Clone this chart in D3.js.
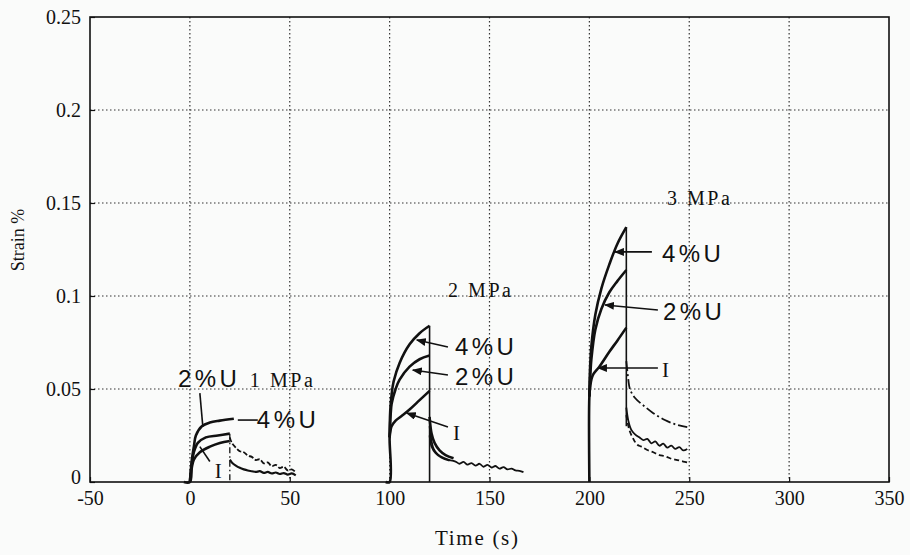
<!DOCTYPE html>
<meta charset="utf-8">
<style>
body { margin: 0; background: #fafbfa; }
.grid line { stroke: #333; stroke-width: 1.2px; stroke-dasharray: 1.5,2.5; }
.axis text { font-family: "Liberation Serif", "Times New Roman", serif; font-size: 20px; fill: #111; }
.axis line { stroke: #111; stroke-width: 1.2px; }
.load { fill: none; stroke: #111; stroke-width: 2.6px; }
.rec { fill: none; stroke: #111; stroke-width: 1.8px; }
.ann { stroke: #111; stroke-width: 1.6px; }
.sans { font-family: "Liberation Sans", Arial, sans-serif; font-size: 24px; fill: #111; }
.serif { font-family: "Liberation Serif", "Times New Roman", serif; fill: #111; }
</style>
<body>
<svg id="graph"></svg>
<script src="https://d3js.org/d3.v7.min.js"></script>
<script>

// tick values
var xTicks = [-50, 0, 50, 100, 150, 200, 250, 300, 350];
var yTicks = [0, 0.05, 0.1, 0.15, 0.2, 0.25];
var yTickLabels = ["0", "0.05", "0.1", "0.15", "0.2", "0.25"];

// 1 MPa, load 0-20 s
var load1_I   = [[-3,0],[0,0],[1,0.008],[2,0.012],[5,0.016],[10,0.019],[15,0.021],[20,0.022]];
var load1_2U  = [[0,0],[1,0.010],[2,0.016],[4,0.021],[8,0.024],[14,0.025],[20,0.026]];
var load1_4U  = [[0,0],[1,0.012],[2,0.019],[3,0.025],[6,0.030],[10,0.032],[15,0.033],[22,0.034]];
var rec1_a = [[20,0.024],[21,0.021],[23,0.0185],[25,0.0165],[27,0.016],[29,0.0142],[31,0.0135],[33,0.0118],[35,0.0122],[37,0.0100],[39,0.0105],[41,0.0085],[43,0.0092],[45,0.0075],[47,0.0082],[49,0.0062],[51,0.0068],[53,0.0052]];
var rec1_b = [[20,0.012],[21,0.0105],[23,0.0088],[25,0.0076],[27,0.0068],[29,0.0062],[31,0.0058],[33,0.0054],[35,0.0058],[37,0.0049],[39,0.0054],[41,0.0046],[43,0.0051],[45,0.0043],[47,0.0048],[49,0.0040],[51,0.0046],[53,0.0036]];
var unload1 = [[20,0.026],[20,0]];

// 2 MPa, load 100-120 s
var load2_I   = [[98,0],[100,0],[100,0.024],[100.5,0.028],[101,0.030],[103,0.033],[106,0.0355],[110,0.039],[115,0.044],[120,0.049]];
var load2_2U  = [[100,0.024],[100.5,0.036],[101,0.042],[103,0.050],[105,0.055],[110,0.062],[115,0.066],[120,0.068]];
var load2_4U  = [[100,0.024],[100.3,0.038],[101,0.047],[102,0.054],[105,0.064],[110,0.074],[115,0.080],[120,0.084]];
var rec2_a = [[120,0.030],[121,0.022],[122,0.018],[124,0.015],[127,0.013],[130,0.0118],[133,0.011],[135,0.0098],[137,0.0108],[139,0.0093],[141,0.0102],[143,0.0088],[145,0.0098],[147,0.0082],[149,0.0092],[151,0.0078],[153,0.0086],[155,0.0072],[157,0.0080],[159,0.0068],[161,0.0072],[163,0.0062],[165,0.0060],[167,0.0053]];
var rec2_b = [[120,0.035],[121,0.026],[122.5,0.021],[125,0.017],[128,0.0145],[132,0.0128]];
var rec2_c = [[120,0.025],[121,0.019],[123,0.0155],[126,0.013],[130,0.0115]];
var unload2 = [[120,0.084],[120,0]];

// 3 MPa, load 200-218.5 s
var load3_I   = [[200,0],[200,0.046],[200.5,0.052],[201,0.055],[202,0.058],[205,0.062],[210,0.070],[214,0.076],[218.5,0.083]];
var load3_2U  = [[200,0.046],[200.5,0.058],[201,0.066],[203,0.082],[206,0.093],[210,0.102],[214,0.108],[218.5,0.114]];
var load3_4U  = [[200,0.046],[200.3,0.060],[201,0.073],[203,0.090],[206,0.104],[210,0.117],[214,0.128],[218.5,0.137]];
var rec3_a = [[218.5,0.065],[219.5,0.055],[220.3,0.050],[223,0.045],[227.8,0.0405],[232,0.037],[237.8,0.0333],[243,0.031],[249,0.0295]];
var rec3_b = [[218.5,0.040],[219.5,0.033],[221,0.028],[223,0.0255],[225,0.024],[227,0.0225],[229,0.0232],[231,0.0208],[233,0.0218],[235,0.0195],[237,0.0206],[239,0.0185],[241,0.0196],[243,0.0178],[245,0.0188],[247,0.0170],[249,0.0178]];
var rec3_c = [[218.5,0.036],[220,0.028],[222,0.0232],[224,0.020],[226,0.019],[229,0.0172],[232,0.016],[235,0.0145],[238,0.0138],[241,0.0125],[244,0.0118],[247,0.011],[249,0.0105]];
var unload3 = [[218.5,0.137],[218.5,0.03]];

// annotation labels (data coords) and pointer lines
var labels = [
  {text: "2%U", t: -6, v: 0.051, kind: "sans"},
  {text: "1 MPa", t: 30, v: 0.051, kind: "mpa"},
  {text: "4%U", t: 33.5, v: 0.029, kind: "sans"},
  {text: "I", t: 12.5, v: 0.002, kind: "roman"},
  {text: "2 MPa", t: 129.2, v: 0.0995, kind: "mpa"},
  {text: "4%U", t: 132.7, v: 0.0683, kind: "sans"},
  {text: "2%U", t: 132.7, v: 0.052, kind: "sans"},
  {text: "I", t: 131.7, v: 0.0226, kind: "roman"},
  {text: "3 MPa", t: 238.8, v: 0.149, kind: "mpa"},
  {text: "4%U", t: 236.3, v: 0.1183, kind: "sans"},
  {text: "2%U", t: 236.8, v: 0.0871, kind: "sans"},
  {text: "I", t: 236.3, v: 0.0565, kind: "roman"}
];
var pointers = [
  {from: [5, 0.0478], to: [6.5, 0.0296], head: false},
  {from: [34, 0.0333], to: [24, 0.0333], head: false},
  {from: [10, 0.011], to: [5, 0.019], head: false},
  {from: [129.2, 0.0726], to: [113.6, 0.0763], head: true},
  {from: [129.2, 0.0575], to: [111.6, 0.0602], head: true},
  {from: [129.2, 0.0296], to: [108.6, 0.0371], head: true},
  {from: [231.3, 0.1237], to: [212.8, 0.1237], head: true},
  {from: [234.3, 0.0925], to: [207.8, 0.0952], head: true},
  {from: [234.3, 0.0613], to: [204.3, 0.0613], head: true}
];

var margin = {top: 17, right: 21, bottom: 73, left: 90},
    width = 910 - margin.left - margin.right,
    height = 555 - margin.top - margin.bottom;

var x = d3.scaleLinear().domain([-50, 350]).range([0, width]);
var y = d3.scaleLinear().domain([0, 0.25]).range([height, 0]);

var root = d3.select("#graph")
    .attr("width", 910)
    .attr("height", 555);

root.append("defs").append("marker")
    .attr("id", "head")
    .attr("viewBox", "0 0 10 8")
    .attr("refX", 9).attr("refY", 4)
    .attr("markerWidth", 10).attr("markerHeight", 8)
    .attr("markerUnits", "userSpaceOnUse")
    .attr("orient", "auto")
  .append("path")
    .attr("d", "M0,0 L10,4 L0,8 Z")
    .attr("fill", "#111");

var svg = root.append("g")
    .attr("transform", "translate(" + margin.left + "," + margin.top + ")");

// grid
svg.append("g").attr("class", "grid")
  .selectAll("line")
  .data(xTicks.slice(1, -1))
  .enter().append("line")
    .attr("x1", function(d) { return x(d); })
    .attr("x2", function(d) { return x(d); })
    .attr("y1", 0).attr("y2", height);

svg.append("g").attr("class", "grid")
  .selectAll("line")
  .data(yTicks.slice(1, -1))
  .enter().append("line")
    .attr("y1", function(d) { return y(d); })
    .attr("y2", function(d) { return y(d); })
    .attr("x1", 0).attr("x2", width);

// axes
var xa = svg.append("g").attr("class", "axis")
    .attr("transform", "translate(0," + height + ")")
    .call(d3.axisBottom(x).tickValues(xTicks).tickSize(-5).tickPadding(9)
      .tickFormat(function(d) { return String(d); }));
xa.select(".domain").remove();

var ya = svg.append("g").attr("class", "axis")
    .call(d3.axisLeft(y).tickValues(yTicks).tickSize(-5).tickPadding(9)
      .tickFormat(function(d, i) { return yTickLabels[i]; }));
ya.select(".domain").remove();
// the "0" label sits a little higher so it clears "-50"
ya.selectAll(".tick text").filter(function(d) { return d === 0; }).attr("dy", "0.05em");

// frame
svg.append("rect")
    .attr("width", width).attr("height", height)
    .attr("fill", "none").attr("stroke", "#111").attr("stroke-width", 1.6);

var smooth = d3.line()
    .x(function(d) { return x(d[0]); })
    .y(function(d) { return y(d[1]); })
    .curve(d3.curveCatmullRom.alpha(0.5));
var straight = d3.line()
    .x(function(d) { return x(d[0]); })
    .y(function(d) { return y(d[1]); });

// load curves
[load1_I, load1_2U, load1_4U, load2_I, load2_2U, load2_4U, load3_I, load3_2U, load3_4U].forEach(function(s) {
  svg.append("path").datum(s).attr("class", "load").attr("d", smooth);
});

// unload drops
svg.append("path").datum(unload1).attr("class", "rec").attr("d", straight)
    .style("stroke-dasharray", "6,3,1.5,3").style("stroke-width", 1.3);
[unload2, unload3].forEach(function(s) {
  svg.append("path").datum(s).attr("class", "rec").attr("d", straight).style("stroke-width", 1.6);
});

// recovery curves
svg.append("path").datum(rec1_a).attr("class", "rec").attr("d", smooth).style("stroke-dasharray", "5,2");
svg.append("path").datum(rec1_b).attr("class", "rec").attr("d", smooth).style("stroke-width", 2.2);
svg.append("path").datum(rec2_a).attr("class", "rec").attr("d", smooth);
svg.append("path").datum(rec2_b).attr("class", "rec").attr("d", smooth).style("stroke-width", 2.6);
svg.append("path").datum(rec2_c).attr("class", "rec").attr("d", smooth);
svg.append("path").datum(rec3_a).attr("class", "rec").attr("d", smooth).style("stroke-dasharray", "10,3,2,3");
svg.append("path").datum(rec3_b).attr("class", "rec").attr("d", smooth);
svg.append("path").datum(rec3_c).attr("class", "rec").attr("d", smooth).style("stroke-dasharray", "5,3");

// pointers
svg.selectAll(".ann")
    .data(pointers)
  .enter().append("line")
    .attr("class", "ann")
    .attr("x1", function(d) { return x(d.from[0]); })
    .attr("y1", function(d) { return y(d.from[1]); })
    .attr("x2", function(d) { return x(d.to[0]); })
    .attr("y2", function(d) { return y(d.to[1]); })
    .attr("marker-end", function(d) { return d.head ? "url(#head)" : null; });

// labels
labels.forEach(function(l) {
  var t = svg.append("text")
      .attr("x", x(l.t))
      .attr("y", y(l.v))
      .text(l.text);
  if (l.kind == "sans") {
    t.attr("class", "sans").attr("textLength", 59).attr("lengthAdjust", "spacing");
  } else if (l.kind == "mpa") {
    t.attr("class", "serif").style("font-size", "20px")
      .attr("textLength", 63).attr("lengthAdjust", "spacing");
  } else {
    t.attr("class", "serif").style("font-size", "21px");
  }
});

// axis labels
root.append("text")
    .attr("class", "serif")
    .attr("transform", "translate(24,240) rotate(-90)")
    .attr("text-anchor", "middle")
    .style("font-size", "18px")
    .text("Strain %");

root.append("text")
    .attr("class", "serif")
    .attr("x", 435).attr("y", 545)
    .style("font-size", "21px")
    .attr("textLength", 83).attr("lengthAdjust", "spacing")
    .text("Time (s)");

</script>
</body>
